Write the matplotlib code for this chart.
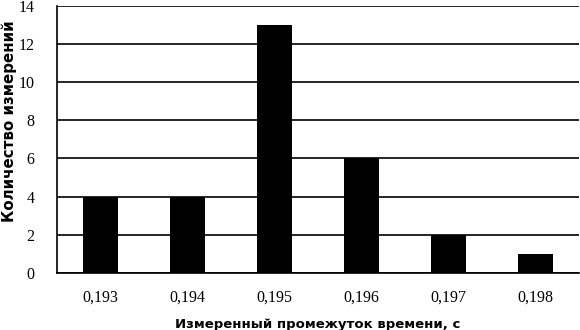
import matplotlib
matplotlib.use("Agg")
import matplotlib.pyplot as plt

categories = ["0,193", "0,194", "0,195", "0,196", "0,197", "0,198"]
counts = [4, 4, 13, 6, 2, 1]
y_ticks = [0, 2, 4, 6, 8, 10, 12, 14]

fig = plt.figure(figsize=(5.8, 3.3), dpi=100)
ax = fig.add_axes([0.098, 0.173, 0.9, 0.809])

x = list(range(len(categories)))
ax.bar(x, counts, width=0.41, color="black", zorder=3)

ax.set_xlim(-0.5, len(categories) - 0.5)
ax.set_ylim(0, 14)
ax.set_yticks(y_ticks)
ax.set_xticks(x)
ax.set_xticklabels(categories)
ax.yaxis.grid(True, color="black", linewidth=1.2, zorder=0)
ax.tick_params(length=0, labelsize=11.5, pad=12)
ax.tick_params(axis="y", pad=16)
for lbl in ax.get_xticklabels() + ax.get_yticklabels():
    lbl.set_family("Liberation Serif")

for side in ["top", "right"]:
    ax.spines[side].set_visible(False)
ax.spines["left"].set_linewidth(1.2)
ax.spines["bottom"].set_linewidth(1.2)

ax.set_xlabel("Измеренный промежуток времени, с", fontsize=9.5,
              fontweight="bold", va="center")
ax.xaxis.set_label_coords(0.5, -0.195)
ax.set_ylabel("Количество измерений", fontsize=10.8, fontweight="bold",
              va="center")
ax.yaxis.set_label_coords(-0.092, 0.57)

fig.savefig("out.png", dpi=100)
